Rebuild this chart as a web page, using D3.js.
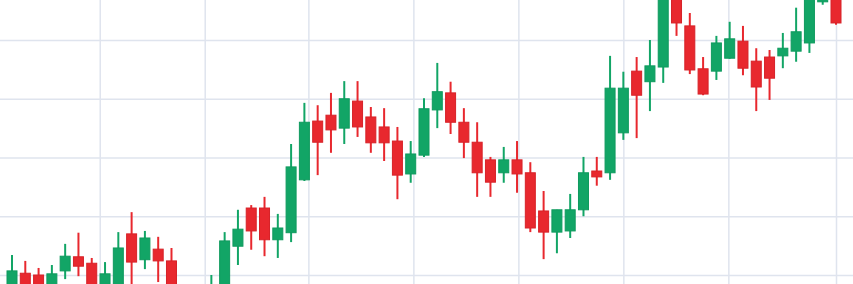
<!DOCTYPE html>
<html>
<head>
<meta charset="utf-8">
<script src="https://cdn.jsdelivr.net/npm/d3@7"></script>
<style>
  html, body { margin: 0; padding: 0; background: #fff; }
  svg { display: block; }
</style>
</head>
<body>
<svg id="chart"></svg>
<script>
// candle values (index 1..63), open/high/low/close
const opens  = [97.1, 100.3, 100.0, 97.5, 100.7, 103.1, 102.0, 97.1, 98.3, 107.0, 102.6, 104.4, 102.4, 96.6, 94.9,
                95.7, 97.5, 104.9, 111.4, 111.4, 106.0, 107.2, 116.2, 126.2, 127.2, 125.0, 129.6, 126.9, 125.2, 122.8,
                117.2, 120.4, 128.1, 131.0, 126.0, 122.6, 119.6, 117.4, 119.6, 117.4, 110.9, 107.3, 107.5, 111.1, 117.7,
                117.4, 124.2, 134.7, 132.9, 135.4, 147.7, 142.4, 135.1, 134.7, 136.9, 139.8, 136.4, 137.1, 137.3, 138.1,
                139.5, 146.5, 147.7];
const highs  = [103.4, 102.4, 101.2, 101.7, 105.3, 107.2, 102.9, 102.2, 107.3, 110.7, 107.5, 106.5, 104.6, 97.5, 97.8,
                100.0, 107.3, 111.1, 111.9, 113.3, 110.4, 122.3, 129.3, 128.9, 131.0, 133.0, 133.0, 128.6, 128.4, 125.2,
                122.8, 130.1, 136.1, 132.9, 128.4, 126.0, 120.1, 121.8, 122.8, 119.2, 114.3, 111.1, 113.8, 120.1, 120.1,
                137.3, 134.6, 137.1, 140.0, 149.4, 149.4, 144.6, 137.1, 140.7, 143.1, 142.4, 138.6, 138.3, 141.2, 145.5,
                148.5, 148.2, 148.5];
const lows   = [96.1, 96.4, 96.3, 96.6, 99.3, 99.8, 96.1, 96.3, 97.5, 96.6, 101.0, 98.8, 95.7, 93.2, 93.7,
                94.9, 96.4, 101.7, 104.3, 103.2, 102.9, 105.6, 116.0, 117.0, 120.8, 122.3, 123.5, 120.8, 119.4, 112.9,
                115.7, 120.1, 125.0, 124.0, 119.9, 113.3, 113.3, 115.7, 114.0, 107.3, 102.7, 103.7, 106.3, 110.0, 115.2,
                116.2, 123.0, 123.3, 127.9, 132.7, 140.7, 134.2, 130.6, 133.2, 136.8, 134.0, 127.9, 129.8, 135.2, 136.3,
                137.8, 146.0, 142.6];
const closes = [100.7, 97.3, 97.1, 100.2, 103.2, 101.5, 97.1, 100.2, 104.6, 102.2, 106.3, 102.4, 96.6, 94.0, 97.1,
                97.8, 105.8, 107.8, 107.5, 106.0, 108.0, 118.4, 126.0, 122.6, 124.7, 130.0, 125.2, 122.5, 122.5, 117.0,
                120.6, 128.3, 131.2, 126.0, 122.6, 117.4, 115.8, 119.6, 117.2, 108.0, 107.3, 111.1, 111.1, 117.4, 116.7,
                131.8, 131.8, 130.6, 135.6, 148.2, 142.9, 134.9, 130.8, 139.5, 140.2, 135.2, 132.0, 133.5, 138.6, 141.4,
                147.2, 147.3, 142.9];

// price gridlines and time gridlines (in candle index units)
const priceTicks = [100, 110, 120, 130, 140];
const timeTicks = [7.6, 15.5, 23.3, 31.2, 39.1, 47, 54.9, 63];

const width = 853;
const height = 284;

const data = opens.map((o, i) => ({
    idx: i + 1, open: o, high: highs[i], low: lows[i], close: closes[i]
}));

const svg = d3.select("#chart")
    .attr("width", width)
    .attr("height", height);

var x = d3.scaleLinear()
    .domain([1, data.length])
    .range([12, 836]);

var y = d3.scaleLinear()
    .domain([100, 140])
    .range([275, 40]);

const gridColor = "#dfe4ee";

svg.append("g")
    .call(d3.axisLeft(y).tickValues(priceTicks).tickSize(-width).tickFormat(""))
    .call((g) => g.select(".domain").remove())
    .call((g) => g.selectAll("line").attr("stroke", gridColor).attr("stroke-width", 1.5));

svg.append("g")
    .attr("transform", `translate(0, ${height})`)
    .call(d3.axisBottom(x).tickValues(timeTicks).tickSize(-height).tickFormat(""))
    .call((g) => g.select(".domain").remove())
    .call((g) => g.selectAll("line").attr("stroke", gridColor).attr("stroke-width", 1.5));

const up = "#12a566";
const down = "#e8282e";
const color = d => d.close >= d.open ? up : down;

const candles = svg.append("g")
    .selectAll("g")
    .data(data)
    .enter()
    .append("g");

candles.append("line")
    .attr("x1", d => x(d.idx))
    .attr("x2", d => x(d.idx))
    .attr("y1", d => y(d.high))
    .attr("y2", d => y(d.low))
    .attr("stroke", color)
    .attr("stroke-width", 2);

const bodyW = 10;
candles.append("rect")
    .attr("x", d => x(d.idx) - bodyW / 2)
    .attr("width", bodyW)
    .attr("y", d => y(Math.max(d.open, d.close)))
    .attr("height", d => Math.max(1.5, Math.abs(y(d.open) - y(d.close))))
    .attr("fill", color)
    .attr("stroke", d => d.close >= d.open ? "#0f9a5e" : "#d72228")
    .attr("stroke-width", 1);
</script>
</body>
</html>
